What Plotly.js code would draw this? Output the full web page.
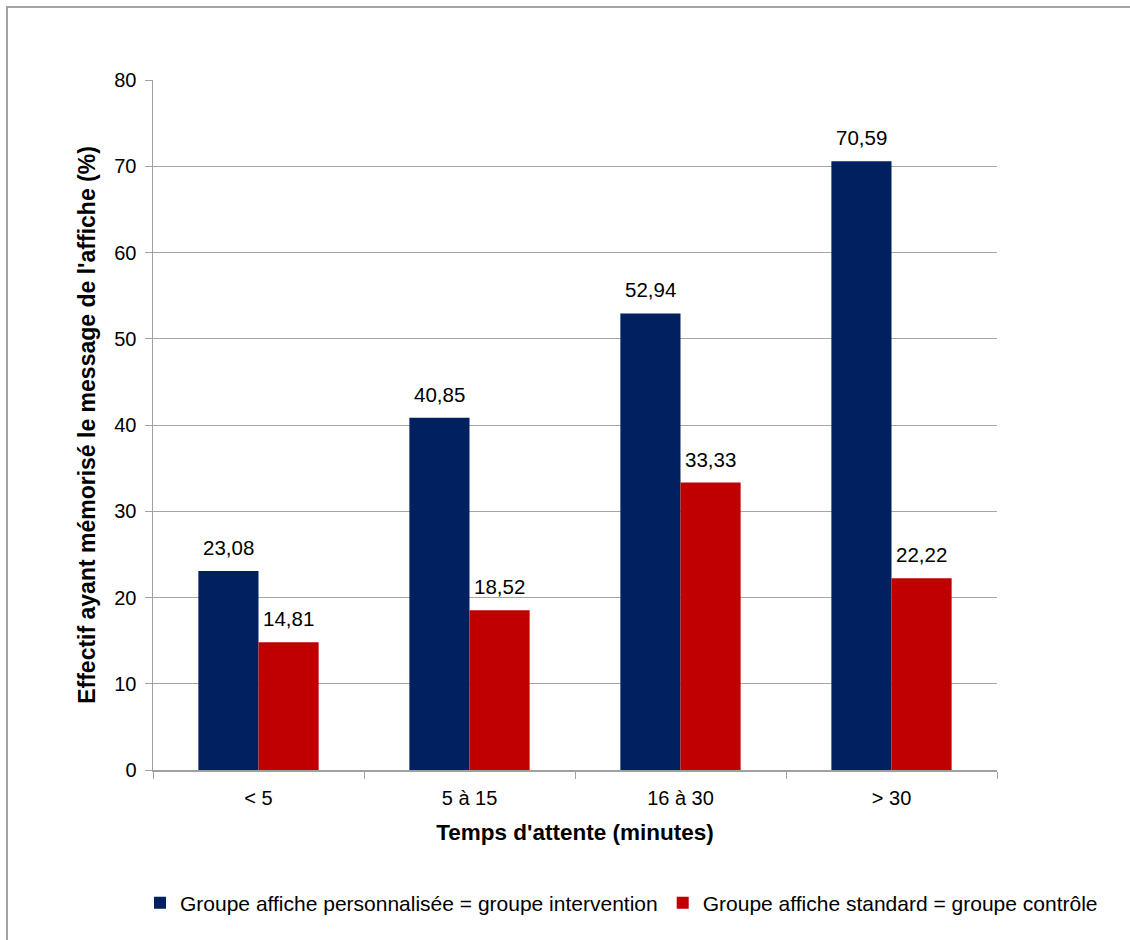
<!DOCTYPE html>
<html>
<head>
<meta charset="utf-8">
<script src="https://cdn.plot.ly/plotly-3.0.1.min.js"></script>
<style>
body{margin:0;background:#fff;}
#wrap{position:relative;width:1130px;height:940px;overflow:hidden;}
#chart{width:1130px;height:940px;}
#frame{position:absolute;left:6px;top:6px;width:1200px;height:1000px;border-top:2px solid #a3a3a3;border-left:2px solid #a3a3a3;pointer-events:none;}
</style>
</head>
<body>
<div id="wrap"><div id="chart"></div><div id="frame"></div></div>
<script>
const categories = ["< 5", "5 à 15", "16 à 30", "> 30"];
const interventionValues = [23.08, 40.85, 52.94, 70.59];
const controlValues = [14.81, 18.52, 33.33, 22.22];
const seriesNames = ["Groupe affiche personnalisée = groupe intervention", "Groupe affiche standard = groupe contrôle"];
const yTicks = [0, 10, 20, 30, 40, 50, 60, 70, 80];

const W = 1130, H = 940;
const margin = {l: 153, r: 133, t: 80, b: 170};
const bargap = 0.43;
const font = "Liberation Sans, Arial, sans-serif";
const fmt = v => v.toFixed(2).replace(".", ",");

const plotW = W - margin.l - margin.r;
const plotH = H - margin.t - margin.b;
const catW = plotW / categories.length;
const barW = catW * (1 - bargap) / 2;

const traces = [
  {type: "bar", x: categories, y: interventionValues, name: seriesNames[0], marker: {color: "#002060"}, hoverinfo: "none"},
  {type: "bar", x: categories, y: controlValues, name: seriesNames[1], marker: {color: "#C00000"}, hoverinfo: "none"}
];

const annotations = [];
[interventionValues, controlValues].forEach((vals, s) => {
  vals.forEach((v, i) => {
    annotations.push({
      x: categories[i], y: v, xref: "x", yref: "y",
      text: fmt(v), showarrow: false, yanchor: "bottom",
      xshift: (s === 0 ? -1 : 1) * barW / 2, yshift: 10,
      font: {family: font, size: 20.5, color: "#000"}
    });
  });
});

const layout = {
  width: W, height: H,
  margin: Object.assign({autoexpand: false}, margin),
  paper_bgcolor: "#fff", plot_bgcolor: "#fff",
  barmode: "group", bargap: bargap, bargroupgap: 0,
  font: {family: font, size: 20, color: "#000"},
  showlegend: true,
  legend: {orientation: "h",
           x: (140 - margin.l) / plotW, xanchor: "left",
           y: -(903 - (margin.t + plotH)) / plotH, yanchor: "middle",
           font: {family: font, size: 21, color: "#000"}, itemwidth: 30, traceorder: "normal"},
  xaxis: {
    type: "category", tickson: "boundaries", ticks: "outside", ticklen: 7, tickcolor: "#a0a0a0",
    showline: true, linecolor: "#a0a0a0", linewidth: 1.5, showgrid: false,
    tickfont: {family: font, size: 20, color: "#000"}, ticklabelstandoff: 9,
    title: {text: "Temps d'attente (minutes)", font: {family: font, size: 22.5, color: "#000", weight: "bold"}, standoff: 16}
  },
  yaxis: {
    range: [0, 80], tickvals: yTicks, ticktext: yTicks.map(String),
    ticks: "outside", ticklen: 7, tickcolor: "#a0a0a0",
    showline: true, linecolor: "#a0a0a0", linewidth: 1.5,
    showgrid: true, gridcolor: "#a6a6a6", gridwidth: 1, zeroline: false,
    tickfont: {family: font, size: 20, color: "#000"}, ticklabelstandoff: 4,
    title: {text: "Effectif ayant mémorisé le message de l'affiche (%)", font: {family: font, size: 23, color: "#000", weight: "bold"}, standoff: 12}
  },
  annotations: annotations
};

Plotly.newPlot("chart", traces, layout, {displayModeBar: false, staticPlot: true});
</script>
</body>
</html>
